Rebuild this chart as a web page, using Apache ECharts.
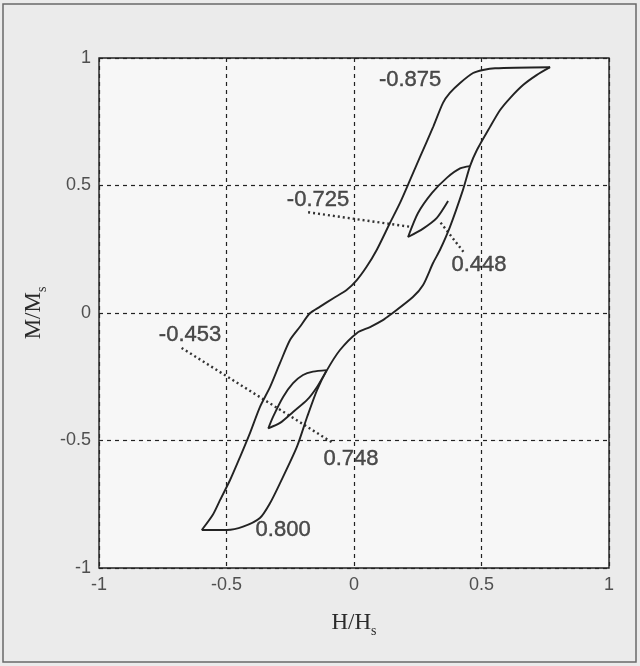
<!DOCTYPE html>
<html>
<head>
<meta charset="utf-8">
<script src="https://cdn.jsdelivr.net/npm/echarts@6/dist/echarts.min.js"></script>
<style>
  html, body { margin: 0; padding: 0; background: #ebebeb; }
  #chart { width: 640px; height: 666px; }
</style>
</head>
<body>
<div id="chart"></div>
<script>
// Major loop: descending branch (from positive tip to negative tip)
const descendingBranch = [
  [0.769, 0.964], [0.553, 0.960], [0.506, 0.953], [0.467, 0.941], [0.416, 0.902],
  [0.376, 0.863], [0.349, 0.824], [0.310, 0.729], [0.259, 0.612], [0.220, 0.522],
  [0.180, 0.431], [0.141, 0.353], [0.089, 0.247], [0.050, 0.182], [0.011, 0.129],
  [-0.029, 0.090], [-0.081, 0.058], [-0.133, 0.025], [-0.173, -0.001], [-0.212, -0.054],
  [-0.251, -0.106], [-0.290, -0.196], [-0.329, -0.290], [-0.369, -0.369], [-0.408, -0.471],
  [-0.447, -0.565], [-0.486, -0.655], [-0.525, -0.733], [-0.553, -0.790], [-0.597, -0.851]
];
// Major loop: ascending branch (from negative tip to positive tip)
const ascendingBranch = [
  [-0.597, -0.851], [-0.499, -0.851], [-0.435, -0.838], [-0.369, -0.804], [-0.329, -0.745],
  [-0.290, -0.667], [-0.224, -0.525], [-0.184, -0.408], [-0.145, -0.302], [-0.106, -0.224],
  [-0.055, -0.145], [0.012, -0.078], [0.063, -0.055], [0.115, -0.027], [0.141, -0.008],
  [0.231, 0.063], [0.271, 0.110], [0.310, 0.196], [0.337, 0.247], [0.376, 0.337],
  [0.427, 0.482], [0.455, 0.576], [0.482, 0.639], [0.533, 0.729], [0.573, 0.796],
  [0.612, 0.843], [0.663, 0.894], [0.716, 0.933], [0.769, 0.964]
];
// Upper minor loop (open)
const minorLoopUpper = [
  [0.455, 0.576], [0.416, 0.567], [0.365, 0.531], [0.306, 0.471], [0.251, 0.392],
  [0.212, 0.298], [0.271, 0.331], [0.325, 0.373], [0.369, 0.439]
];
// Lower minor loop (closed)
const minorLoopLower = [
  [-0.107, -0.224], [-0.161, -0.230], [-0.200, -0.243], [-0.239, -0.275], [-0.278, -0.329],
  [-0.318, -0.408], [-0.336, -0.452], [-0.290, -0.431], [-0.239, -0.388], [-0.184, -0.341],
  [-0.145, -0.290], [-0.107, -0.224]
];
// Dotted leader lines
const leader725 = [[-0.180, 0.395], [0.220, 0.338]];
const leader448 = [[0.429, 0.240], [0.337, 0.358]];
const leader453 = [[-0.676, -0.137], [-0.082, -0.510]];
// Annotation labels
const labelTexts = ['-0.875', '-0.725', '0.448', '-0.453', '0.748', '0.800'];
const labelX = [0.220, -0.141, 0.490, -0.643, -0.012, -0.278];
const labelY = [0.914, 0.443, 0.188, -0.086, -0.573, -0.851];
// Axis ticks
const axisMin = -1, axisMax = 1, axisStep = 0.5;

const chart = echarts.init(document.getElementById('chart'));
const lineColor = '#232323';
const curve = (data) => ({
  type: 'line', data: data, showSymbol: false, smooth: 0.25,
  lineStyle: { color: lineColor, width: 1.9 }, silent: true, z: 3
});
const dotted = (data) => ({
  type: 'line', data: data, showSymbol: false,
  lineStyle: { color: '#333', width: 2.4, type: [2, 3] }, silent: true, z: 2
});
const tickFmt = (v) => (Math.abs(v) < 1e-9 ? '0' : String(v));
const serif = 'Liberation Serif, Times New Roman, serif';
const nameRich = {
  a: { fontFamily: serif, fontSize: 23, color: '#2a2a2a', lineHeight: 26 },
  s: { fontFamily: serif, fontSize: 14, color: '#2a2a2a', verticalAlign: 'bottom', padding: [16, 0, 0, 0] }
};

chart.setOption({
  backgroundColor: '#ebebeb',
  animation: false,
  graphic: [{
    type: 'rect', shape: { x: 3, y: 4, width: 633, height: 658 },
    style: { fill: 'none', stroke: '#6a6a6a', lineWidth: 1.5 }, silent: true
  }],
  grid: {
    left: 99, top: 58, width: 510, height: 510,
    show: true, backgroundColor: '#f7f7f7', borderColor: '#222', borderWidth: 1.4
  },
  xAxis: {
    type: 'value', min: axisMin, max: axisMax, interval: axisStep,
    axisLine: { show: false }, axisTick: { show: false },
    axisLabel: { formatter: tickFmt, color: '#4f4f4f', fontSize: 18, margin: 8,
      fontFamily: 'Liberation Sans, Arial, sans-serif' },
    splitLine: { show: true, lineStyle: { color: '#222', width: 1.2, type: [4, 4] } },
    name: '{a|H/H}{s|s}', nameLocation: 'middle', nameGap: 40,
    nameTextStyle: { rich: nameRich }
  },
  yAxis: {
    type: 'value', min: axisMin, max: axisMax, interval: axisStep,
    axisLine: { show: false }, axisTick: { show: false },
    axisLabel: { formatter: tickFmt, color: '#4f4f4f', fontSize: 18, margin: 8,
      fontFamily: 'Liberation Sans, Arial, sans-serif' },
    splitLine: { show: true, lineStyle: { color: '#222', width: 1.2, type: [4, 4] } },
    name: '{a|M/M}{s|s}', nameLocation: 'middle', nameRotate: 90, nameGap: 46,
    nameTextStyle: { rich: nameRich }
  },
  series: [
    curve(descendingBranch),
    curve(ascendingBranch),
    curve(minorLoopUpper),
    curve(minorLoopLower),
    dotted(leader725),
    dotted(leader448),
    dotted(leader453),
    {
      type: 'scatter', symbolSize: 0, silent: true, z: 5,
      data: labelTexts.map((t, i) => ({ value: [labelX[i], labelY[i]], name: t })),
      label: {
        show: true, position: 'inside', formatter: (p) => p.name,
        fontFamily: 'Liberation Sans, Arial, sans-serif', fontSize: 22, fontWeight: 'normal', color: '#222',
        textBorderColor: '#222', textBorderWidth: 0.4
      }
    }
  ]
});
</script>
</body>
</html>
